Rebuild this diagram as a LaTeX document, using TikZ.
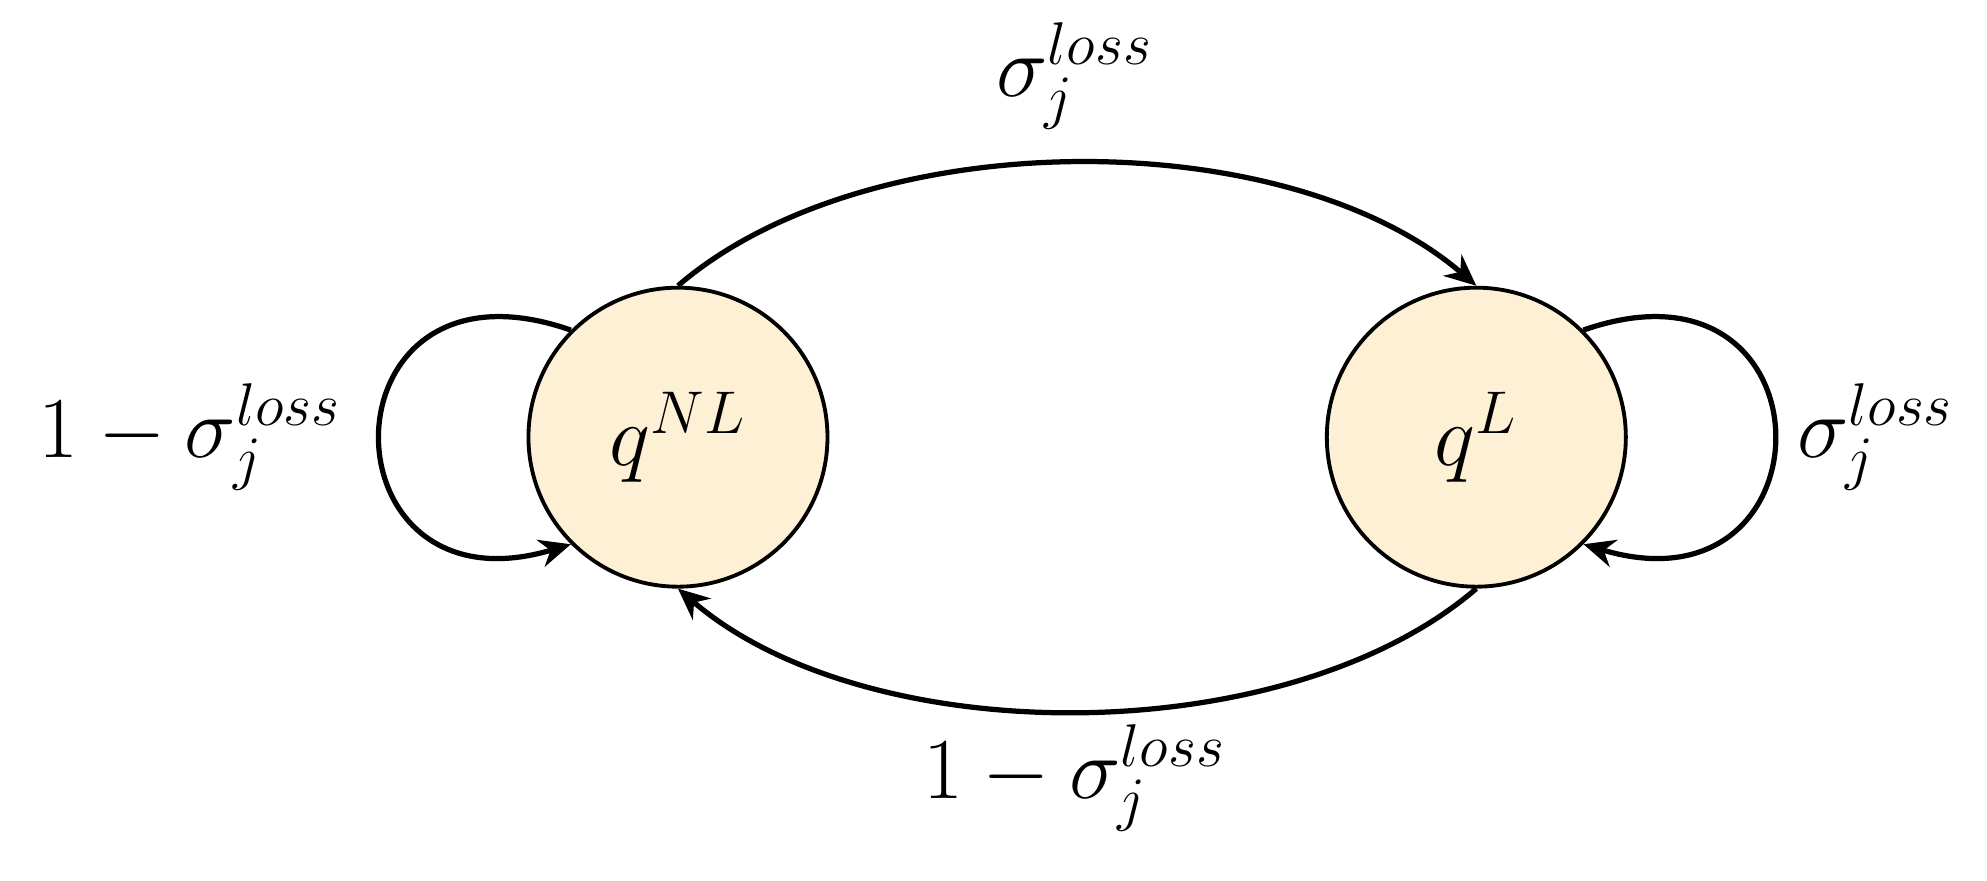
\documentclass[tikz,border=0pt]{standalone}
\usetikzlibrary{arrows.meta}
\definecolor{cream}{HTML}{FDF0D5}
\begin{document}
\begin{tikzpicture}[x=0.01276cm,y=-0.01276cm,
  st/.style={circle,draw,line width=1.1pt,fill=cream,inner sep=0pt,minimum size=3.01cm,font=\fontsize{26}{30}\selectfont},
  ed/.style={line width=1.5pt,-{Stealth[length=9pt,width=8pt]}},
  lb/.style={font=\fontsize{26}{30}\selectfont}]
\useasboundingbox (0,0) rectangle (1568,695);
\node[st] (L) at (535,345) {$q^{NL}$};
\node[st] (R) at (1165,345) {$q^{L}$};
\draw[ed] (L.north) .. controls +(150,-129) and +(-150,-129) .. (R.north);
\draw[ed] (R.south) .. controls +(-150,129) and +(150,129) .. (L.south);
\draw[ed] (L.135) .. controls +(-200,-70) and +(-200,60) .. (L.-135);
\draw[ed] (R.45) .. controls +(200,-70) and +(200,60) .. (R.-45);
\node[lb] (t1) at (848,60) {$\sigma_j^{loss}$};
\node[lb] (t2) at (848,614) {$1-\sigma_j^{loss}$};
\node[lb] (t3) at (150,345) {$1-\sigma_j^{loss}$};
\node[lb] (t4) at (1480,345) {$\sigma_j^{loss}$};
\end{tikzpicture}
\end{document}
